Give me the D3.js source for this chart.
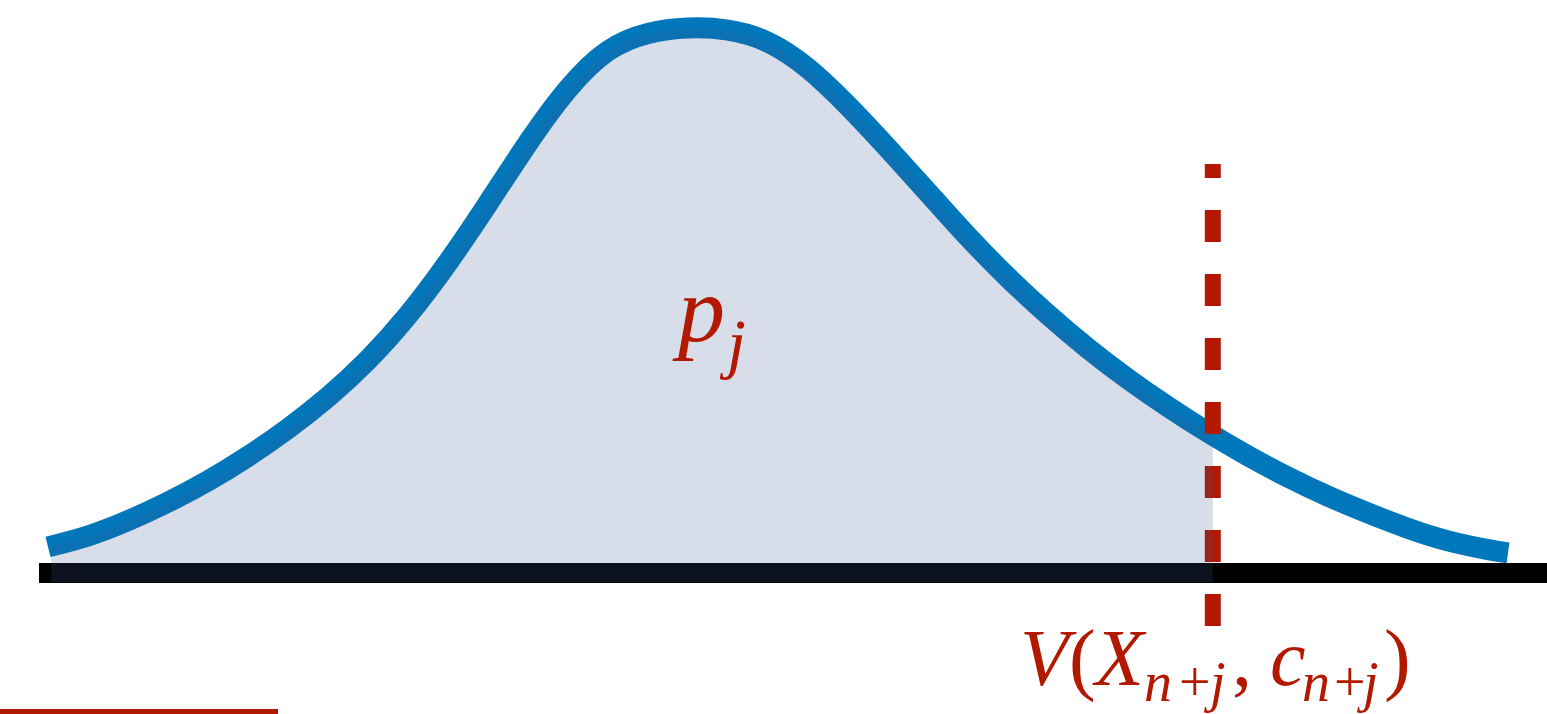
<!DOCTYPE html>
<html>
<head>
<meta charset="utf-8">
<script src="https://cdn.jsdelivr.net/npm/d3@7"></script>
<style>
  html, body { margin: 0; padding: 0; background: #ffffff; }
  svg { display: block; }
  text { font-family: "Liberation Serif", "DejaVu Serif", serif; }
</style>
</head>
<body>
<svg id="chart" width="1547" height="714"></svg>
<script>
// Score values along the horizontal axis and the (relative) density at each score
const scores = [-4.00, -3.75, -3.50, -3.25, -3.00, -2.75, -2.50, -2.25, -2.00, -1.75,
                -1.50, -1.25, -1.00, -0.75, -0.50, -0.25, 0.00, 0.25, 0.50, 0.75,
                 1.00, 1.25, 1.50, 1.75, 2.00, 2.25, 2.50, 2.75, 3.00, 3.25,
                 3.50, 3.75, 4.00, 4.25, 4.50, 4.75, 5.00, 5.125];
const density = [0.048, 0.068, 0.096, 0.130, 0.169, 0.214, 0.265, 0.323, 0.391, 0.473,
                 0.570, 0.678, 0.789, 0.888, 0.958, 0.990, 1.000, 0.996, 0.974, 0.926,
                 0.857, 0.779, 0.698, 0.617, 0.542, 0.474, 0.412, 0.356, 0.305, 0.258,
                 0.215, 0.176, 0.141, 0.110, 0.082, 0.059, 0.043, 0.037];
// Threshold score V(X_{n+j}, c_{n+j}) and the start of the shaded mass p_j
const threshold = [3.28];
const shadeStart = [-3.98];

const red = "#b31800";
const blue = "#0077bb";

const svg = d3.select("#chart");
const W = 1547, H = 714;

const x = d3.scaleLinear().domain([-4, 5.125]).range([48, 1508]);
const y = d3.scaleLinear().domain([0, 1]).range([573, 28]);

const pts = scores.map((s, i) => ({ s, d: density[i] }));
const smooth = d3.curveNatural;

// horizontal axis bar
svg.append("rect")
  .attr("x", 39).attr("y", y(0) - 10)
  .attr("width", W - 39).attr("height", 20)
  .attr("fill", "#000000");

// density curve
const line = d3.line()
  .x(p => x(p.s)).y(p => y(p.d))
  .curve(smooth);

svg.append("path")
  .datum(pts)
  .attr("d", line)
  .attr("fill", "none")
  .attr("stroke", blue)
  .attr("stroke-width", 21)
  .attr("stroke-linecap", "butt");

// threshold marker
svg.append("line")
  .attr("x1", x(threshold[0])).attr("x2", x(threshold[0]))
  .attr("y1", 164).attr("y2", 626)
  .attr("stroke", red)
  .attr("stroke-width", 16)
  .attr("stroke-dasharray", "32 32")
  .attr("stroke-dashoffset", 18);

// shaded mass below the threshold
svg.append("clipPath").attr("id", "mass")
  .append("rect")
  .attr("x", x(shadeStart[0])).attr("y", 0)
  .attr("width", x(threshold[0]) - x(shadeStart[0]))
  .attr("height", H);

const area = d3.area()
  .x(p => x(p.s)).y0(y(0) + 9).y1(p => y(p.d))
  .curve(smooth);

svg.append("path")
  .datum(pts)
  .attr("d", area)
  .attr("clip-path", "url(#mass)")
  .attr("fill", "#3d5c91")
  .attr("fill-opacity", 0.2);

// p_j label
const pj = svg.append("text").attr("fill", red);
pj.append("tspan").attr("x", 678).attr("y", 341)
  .attr("font-style", "italic").attr("font-size", 94).text("p");
pj.append("tspan").attr("x", 727).attr("y", 366)
  .attr("font-style", "italic").attr("font-size", 68).text("j");

// threshold label
const lab = svg.append("text").attr("fill", red);
const base = 685, sub = 701, big = 80, small = 56;
const parts = [
  { t: "V", x: 1020, y: base, fs: big, it: true },
  { t: "(", x: 1069, y: base, fs: big, it: false },
  { t: "X", x: 1095, y: base, fs: big, it: true },
  { t: "n", x: 1144, y: sub, fs: small, it: true },
  { t: "+", x: 1179, y: sub, fs: small, it: false },
  { t: "j", x: 1210, y: sub, fs: small, it: true },
  { t: ",", x: 1232, y: base, fs: big, it: false },
  { t: "c", x: 1270, y: base, fs: big, it: true },
  { t: "n", x: 1302, y: sub, fs: small, it: true },
  { t: "+", x: 1334, y: sub, fs: small, it: false },
  { t: "j", x: 1363, y: sub, fs: small, it: true },
  { t: ")", x: 1384, y: base, fs: big, it: false }
];
parts.forEach(p => {
  lab.append("tspan")
    .attr("x", p.x).attr("y", p.y)
    .attr("font-size", p.fs)
    .attr("font-style", p.it ? "italic" : "normal")
    .text(p.t);
});

// rule at the lower left
svg.append("rect")
  .attr("x", 0).attr("y", 709)
  .attr("width", 278).attr("height", 6)
  .attr("fill", red);
</script>
</body>
</html>
